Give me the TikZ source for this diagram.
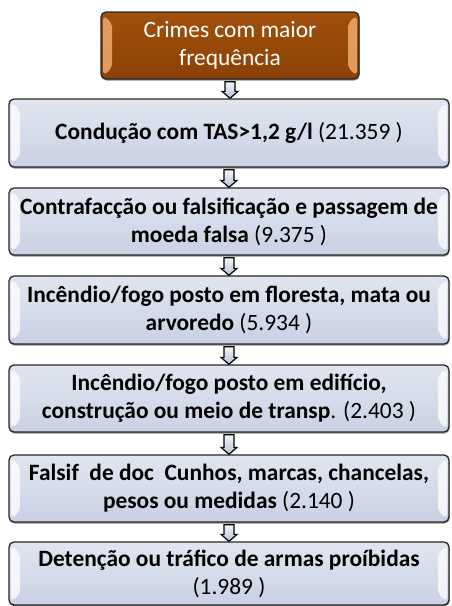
\documentclass[tikz,border=0pt]{standalone}
\usepackage{fontspec}
\setmainfont{Carlito}
\usetikzlibrary{calc,shadows}
\definecolor{boxfillA}{HTML}{E0E5F0}
\definecolor{boxfillB}{HTML}{C9D1E3}
\definecolor{brownA}{HTML}{A0500C}
\definecolor{brownB}{HTML}{8C4205}
\definecolor{bevelO}{HTML}{EDAA6C}
\definecolor{arrA}{HTML}{F4F6FA}
\definecolor{arrB}{HTML}{B8C2D8}
\tikzset{
  basebox/.style={draw=black!85, line width=1.3pt, rounded corners=5pt,
    align=center, inner sep=0pt,
    font=\fontsize{23.4}{28}\selectfont,
    drop shadow={shadow xshift=0.5pt, shadow yshift=-1.5pt, opacity=0.45, fill=black}},
  bevelside/.style={path picture={
    \fill[#1] ([xshift=2pt,yshift=-3pt]path picture bounding box.north west)
      -- ([xshift=11pt,yshift=-11pt]path picture bounding box.north west)
      -- ([xshift=11pt,yshift=11pt]path picture bounding box.south west)
      -- ([xshift=2pt,yshift=3pt]path picture bounding box.south west) -- cycle;
    \fill[#1] ([xshift=-2pt,yshift=-3pt]path picture bounding box.north east)
      -- ([xshift=-11pt,yshift=-11pt]path picture bounding box.north east)
      -- ([xshift=-11pt,yshift=11pt]path picture bounding box.south east)
      -- ([xshift=-2pt,yshift=3pt]path picture bounding box.south east) -- cycle;
  }},
  crimebox/.style={basebox, top color=boxfillA, bottom color=boxfillB,
    minimum width=440pt,
    bevelside={white,opacity=0.75}},
  headbox/.style={basebox, top color=brownA, bottom color=brownB, text=white,
    minimum width=258pt, minimum height=67pt,
    bevelside={bevelO,opacity=0.85}},
  blockarr/.style={draw=black, line width=1.2pt, top color=arrA, bottom color=arrB, line join=miter}
}
\newcommand{\blockarrow}[2]{%
  \path[blockarr] let \p1=(#1.south), \p2=(#2.north) in
    (\x1-5pt,\y1-2pt) -- (\x1+5pt,\y1-2pt) -- (\x1+5pt,\y2+7pt) -- (\x1+8pt,\y2+7pt)
    -- (\x1,\y2) -- (\x1-8pt,\y2+7pt) -- (\x1-5pt,\y2+7pt) -- cycle;}
\begin{document}
\begin{tikzpicture}[x=1pt,y=-1pt]
\useasboundingbox (0,0) rectangle (452,606);
\node[headbox] (h) at (230,45.5) {Crimes com maior\\frequência};
\node[crimebox, minimum height=68pt] (b2) at (229,133)
  {\textbf{Condução com TAS>1,2 g/l} (21.359 )};
\node[crimebox, minimum height=67pt] (b3) at (229,221.5)
  {\textbf{Contrafacção ou falsificação e passagem de}\\\textbf{moeda falsa} (9.375 )};
\node[crimebox, minimum height=68pt] (b4) at (229,310)
  {\textbf{Incêndio/fogo posto em floresta, mata ou}\\\textbf{arvoredo} (5.934 )};
\node[crimebox, minimum height=67pt] (b5) at (229,398.5)
  {\textbf{Incêndio/fogo posto em edifício,}\\\textbf{construção ou meio de transp}. (2.403 )};
\node[crimebox, minimum height=67pt] (b6) at (229,488.5)
  {\textbf{Falsif\ \ de doc\ \ Cunhos, marcas, chancelas,}\\\textbf{pesos ou medidas} (2.140 )};
\node[crimebox, minimum height=63pt] (b7) at (229,573.5)
  {\textbf{Detenção ou tráfico de armas proíbidas}\\(1.989 )};
\blockarrow{h}{b2}
\blockarrow{b2}{b3}
\blockarrow{b3}{b4}
\blockarrow{b4}{b5}
\blockarrow{b5}{b6}
\blockarrow{b6}{b7}
\end{tikzpicture}
\end{document}
